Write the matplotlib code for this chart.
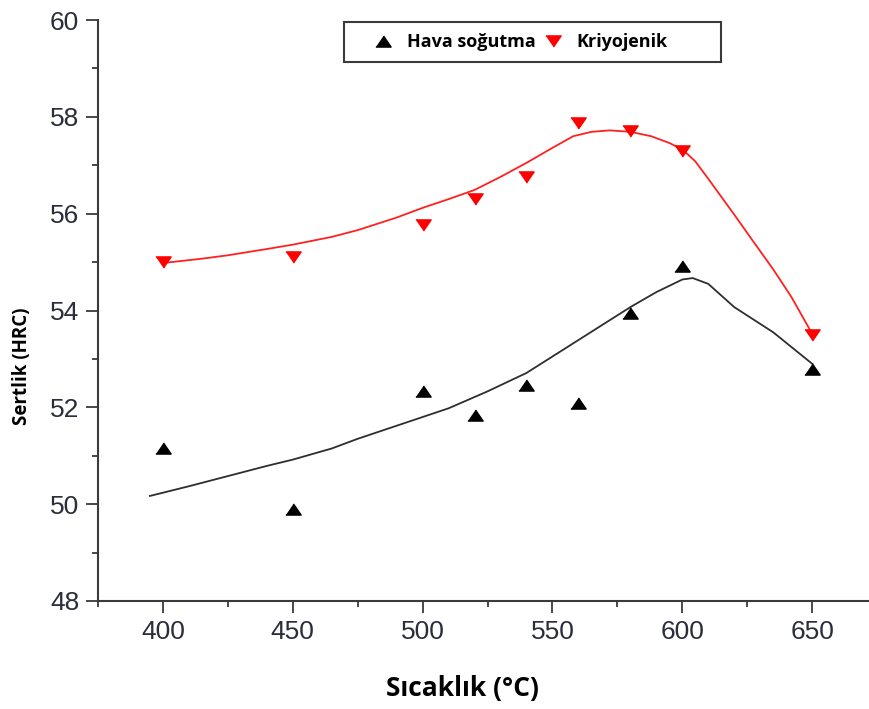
import matplotlib.pyplot as plt
from matplotlib.patches import Rectangle
from matplotlib.ticker import MultipleLocator

# measured hardness values
temps = [400, 450, 500, 520, 540, 560, 580, 600, 650]
hava = [51.16, 49.90, 52.33, 51.84, 52.46, 52.09, 53.95, 54.92, 52.80]
kriyo = [55.00, 55.10, 55.77, 56.30, 56.76, 57.87, 57.71, 57.29, 53.50]

# smoothed trend curves
hava_fit_x = [395, 410, 425, 440, 450, 465, 475, 490, 500, 510, 525, 540, 550, 560,
              570, 580, 590, 600, 604, 610, 620, 635, 650]
hava_fit_y = [50.17, 50.37, 50.58, 50.79, 50.92, 51.15, 51.35, 51.62, 51.80, 51.98,
              52.33, 52.71, 53.05, 53.39, 53.73, 54.07, 54.38, 54.64, 54.67, 54.55,
              54.07, 53.55, 52.90]
kriyo_fit_x = [400, 415, 425, 440, 450, 465, 475, 490, 500, 510, 520, 530, 540, 550,
               558, 565, 572, 580, 588, 595, 600, 605, 610, 620, 627, 635, 642, 650]
kriyo_fit_y = [54.98, 55.07, 55.14, 55.27, 55.36, 55.52, 55.66, 55.92, 56.12, 56.30,
               56.49, 56.76, 57.05, 57.36, 57.60, 57.69, 57.72, 57.69, 57.60, 57.46,
               57.33, 57.08, 56.72, 55.98, 55.45, 54.85, 54.28, 53.52]

tri_up = [(-1, -0.73), (1, -0.73), (0, 0.73)]
tri_down = [(-1, 0.73), (1, 0.73), (0, -0.73)]

W, H = 870, 709
fig = plt.figure(figsize=(W / 100, H / 100), dpi=100)
ax = fig.add_axes([98 / W, 1 - 601 / H, 770 / W, 581 / H])

ax.plot(hava_fit_x, hava_fit_y, color='#2e2e2e', lw=1.3, zorder=2)
ax.plot(kriyo_fit_x, kriyo_fit_y, color='#ff2020', lw=1.3, zorder=2)
ax.plot(temps, hava, ls='none', marker=tri_up, ms=11, color='black',
        label='Hava soğutma', zorder=3)
ax.plot(temps, kriyo, ls='none', marker=tri_down, ms=11, color='#ff0000',
        label='Kriyojenik', zorder=3)

ax.set_xlim(375, 671.5)
ax.set_ylim(48, 60)
ax.xaxis.set_major_locator(MultipleLocator(50))
ax.xaxis.set_minor_locator(MultipleLocator(25))
ax.yaxis.set_major_locator(MultipleLocator(2))
ax.yaxis.set_minor_locator(MultipleLocator(1))

for side in ['top', 'right']:
    ax.spines[side].set_visible(False)
for side in ['left', 'bottom']:
    ax.spines[side].set_color('#3a3a3a')
    ax.spines[side].set_linewidth(1.5)

ax.tick_params(which='major', length=8.5, width=1.3, color='#3a3a3a',
               labelsize=19, labelcolor='#2b2d3a', pad=5)
ax.tick_params(which='minor', length=4.5, width=1.3, color='#3a3a3a')
for lab in ax.get_xticklabels() + ax.get_yticklabels():
    lab.set_family('Liberation Sans')

ax.set_xlabel('Sıcaklık (°C)', fontsize=19, fontweight='bold', family='Open Sans')
ax.xaxis.set_label_coords(0.473, -0.128)
ax.set_ylabel('Sertlik (HRC)', fontsize=13.5, fontweight='bold', family='Open Sans')
ax.yaxis.set_label_coords(-0.086, 0.404)

# legend entries without frame, boxed separately
leg = ax.legend(ncol=2, loc='center left',
                bbox_to_anchor=(375 / W, 1 - 42 / H), bbox_transform=fig.transFigure,
                frameon=False,
                prop={'family': 'Open Sans', 'weight': 'bold', 'size': 13},
                handlelength=0.9, handletextpad=0.85, columnspacing=0.55,
                borderpad=0, borderaxespad=0)
fig.add_artist(Rectangle((344 / W, 1 - 62 / H), 377 / W, 40 / H,
                         transform=fig.transFigure, fill=False,
                         edgecolor='#3a3a3a', lw=1.5))

fig.savefig('out.png', dpi=100)
